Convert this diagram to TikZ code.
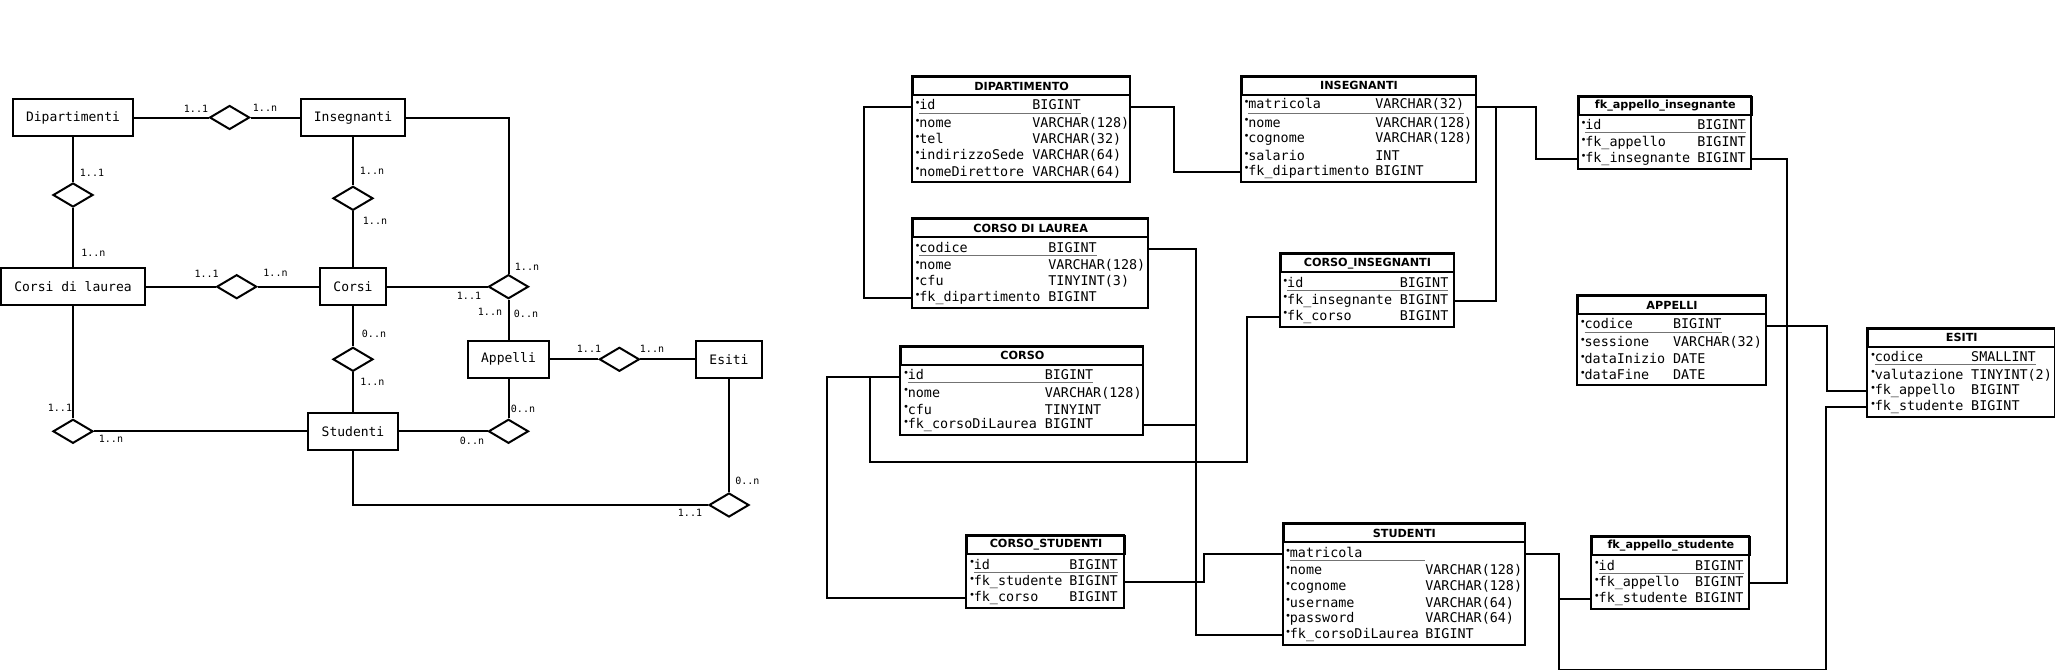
\documentclass[tikz,border=0pt]{standalone}
\usepackage{fontspec}
\setmainfont{DejaVu Sans}
\newfontfamily\monofont{DejaVu Sans Mono}
\usetikzlibrary{calc,shapes.geometric}

\newcommand{\erfont}{\monofont\fontsize{6.5}{7}\selectfont}
\newcommand{\cardfont}{\monofont\fontsize{5}{6}\selectfont}
\newcommand{\rowfont}{\monofont\fontsize{6.7}{8}\selectfont}
\newcommand{\headfont}{\bfseries\fontsize{5.6}{6}\selectfont}
\newcommand{\fieldmark}{\makebox[2pt][l]{\hspace{-0.4pt}\raisebox{0.45ex}{\fontsize{5}{5}\selectfont\textbullet}}}
\newcommand{\keyline}[1]{\textcolor{black!55}{\underline{\textcolor{black}{#1}}}}

\tikzset{
	entity/.style={draw, line width=1pt, font=\erfont, inner xsep=6.65pt, inner ysep=0pt, minimum height=18.25pt},
	relation/.style={draw, diamond, line width=1pt, minimum width=20pt, minimum height=12pt, inner sep=0pt},
	card/.style={font=\cardfont, inner sep=0pt},
	tabhead/.style={draw, line width=1pt, inner sep=0pt, minimum height=9pt, font=\headfont},
	tabrow/.style={inner sep=0pt, minimum height=8.1pt, font=\rowfont},
	tabframe/.style={line width=1pt},
	link/.style={line width=1pt}
}

% #1 name, #2 top left, #3 width, #4 type column, #5 number of rows, #6 title, #7 fields
\newcommand{\dbtable}[7]{%
	\node[tabhead, anchor=north west] (#1) at #2 {\makebox[\dimexpr #3pt/2\relax]{#6}};
	\foreach \fname/\ftype [count=\i] in {#7} {
		\node[tabrow, anchor=north west] (#1-\i) at ($(#1.south west)+(0,{2.5+(\i-1)*16.2})$)
			{\makebox[\dimexpr #3pt/2\relax][l]{\hspace{1.5pt}\fieldmark\ifnum\i=1 \keyline{\makebox[\dimexpr #4pt/2-3.5pt\relax][l]{\fname}\ftype}\else\makebox[\dimexpr #4pt/2-3.5pt\relax][l]{\fname}\ftype\fi}};
	}
	\draw[tabframe] (#1.north west) rectangle ($(#1-#5.south east)+(0,1.5)$);
}

\begin{document}
\begin{tikzpicture}[x=0.5pt, y=-0.5pt]
	\useasboundingbox (0,0) rectangle (2055,669);

	% entity-relationship schema
	\node[entity] (dipartimenti) at (73,117.5) {Dipartimenti};
	\node[entity] (insegnanti) at (353,117.5) {Insegnanti};
	\node[entity] (corsidilaurea) at (73,286.7) {Corsi di laurea};
	\node[entity] (corsi) at (353,286.7) {Corsi};
	\node[entity] (appelli) at (508.5,359.3) {Appelli};
	\node[entity] (esiti) at (729,359.3) {Esiti};
	\node[entity] (studenti) at (353,431.3) {Studenti};

	\node[relation] (dipins) at (229.6,117.5) {};
	\node[relation] (dipcdl) at (73,195) {};
	\node[relation] (inscor) at (353,198.3) {};
	\node[relation] (cdlcor) at (236.7,286.7) {};
	\node[relation] (inscorapp) at (508.5,286.7) {};
	\node[relation] (corstu) at (353,359.3) {};
	\node[relation] (appesi) at (619.4,359.3) {};
	\node[relation] (cdlstu) at (73,431.3) {};
	\node[relation] (stuapp) at (508.5,431.3) {};
	\node[relation] (stuesi) at (729,505) {};

	\draw[link] (dipartimenti) -- (dipins) -- (insegnanti);
	\draw[link] (dipartimenti) -- (dipcdl) -- (corsidilaurea);
	\draw[link] (insegnanti) -- (inscor) -- (corsi);
	\draw[link] (corsidilaurea) -- (cdlcor) -- (corsi);
	\draw[link] (corsi) -- (inscorapp) -- (appelli);
	\draw[link] (insegnanti.east) -| (inscorapp.north);
	\draw[link] (corsi) -- (corstu) -- (studenti);
	\draw[link] (appelli) -- (appesi) -- (esiti);
	\draw[link] (corsidilaurea) -- (cdlstu.north);
	\draw[link] (cdlstu.east) -- (studenti.west);
	\draw[link] (studenti) -- (stuapp) -- (appelli);
	\draw[link] (studenti.south) |- (stuesi.west);
	\draw[link] (esiti) -- (stuesi);

	\foreach \cx/\cy/\ctext [count=\k] in {
		196/109/1..1, 265/107.7/1..n,
		92/172.7/1..1, 93.4/253.3/1..n,
		372/170.7/1..n, 375/221/1..n,
		206.6/274.3/1..1, 275.5/273.3/1..n,
		527/266.5/1..n, 469/296/1..1, 490/312/1..n, 526/314/0..n,
		589/348.7/1..1, 652/349.3/1..n,
		374/334/0..n, 372.4/381.7/1..n,
		60/408.3/1..1, 111/439.3/1..n,
		523/409.3/0..n, 472/440.7/0..n,
		747.4/481/0..n, 690/512.7/1..1}
		\node[card] (card\k) at (\cx,\cy) {\ctext};

	% relational schema
	\dbtable{tdip}{(912,76)}{217.3}{120}{5}{DIPARTIMENTO}{id/BIGINT, nome/VARCHAR(128), tel/VARCHAR(32), indirizzoSede/VARCHAR(64), nomeDirettore/VARCHAR(64)}
	\dbtable{tins}{(1241,75.7)}{234}{134}{5}{INSEGNANTI}{matricola/VARCHAR(32), nome/VARCHAR(128), cognome/VARCHAR(128), salario/INT, fk\_dipartimento/BIGINT}
	\dbtable{tcdl}{(912,218.3)}{235.3}{136}{4}{CORSO DI LAUREA}{codice/BIGINT, nome/VARCHAR(128), cfu/TINYINT(3), fk\_dipartimento/BIGINT}
	\dbtable{tci}{(1279.8,253.3)}{173.2}{119.7}{3}{CORSO\_INSEGNANTI}{id/BIGINT, fk\_insegnante/BIGINT, fk\_corso/BIGINT}
	\dbtable{tcor}{(900.4,345.7)}{242}{144}{4}{CORSO}{id/BIGINT, nome/VARCHAR(128), cfu/TINYINT, fk\_corsoDiLaurea/BIGINT}
	\dbtable{tcs}{(966.4,535)}{157.2}{102.6}{3}{CORSO\_STUDENTI}{id/BIGINT, fk\_studente/BIGINT, fk\_corso/BIGINT}
	\dbtable{tstu}{(1282.5,523.3)}{241.7}{142.4}{6}{STUDENTI}{matricola/{}, nome/VARCHAR(128), cognome/VARCHAR(128), username/VARCHAR(64), password/VARCHAR(64), fk\_corsoDiLaurea/BIGINT}
	\dbtable{tfai}{(1577.9,95.7)}{172.7}{119}{3}{fk\_appello\_insegnante}{id/BIGINT, fk\_appello/BIGINT, fk\_insegnante/BIGINT}
	\dbtable{tapp}{(1577.2,295)}{187.6}{95.5}{4}{APPELLI}{codice/BIGINT, sessione/VARCHAR(32), dataInizio/DATE, dataFine/DATE}
	\dbtable{tesi}{(1867.4,327.7)}{186.6}{103.4}{4}{ESITI}{codice/SMALLINT, valutazione/TINYINT(2), fk\_appello/BIGINT, fk\_studente/BIGINT}
	\dbtable{tfas}{(1591.3,536)}{157.2}{103.4}{3}{fk\_appello\_studente}{id/BIGINT, fk\_appello/BIGINT, fk\_studente/BIGINT}

	\draw[link] (tdip-1.west) -- ++(-48.5,0) |- (tcdl-4.west);
	\draw[link] (tdip-1.east) -- ++(44,0) |- (tins-5.west);
	\draw[link] (tins-1.east) -- ++(60,0) |- (tfai-3.west);
	\draw[link] (tins-1.east) -- ++(20,0) |- (tci-2.east);
	\draw[link] (tcdl-1.east) -- ++(48,0) coordinate (cdljoin) |- (tstu-6.west);
	\draw[link] (tcor-4.east) -- (tcor-4.east -| cdljoin);
	\draw[link] (tcor-1.west) -- ++(-30,0) -- ++(0,85.7) -| ($(tci-3.west)+(-32.6,0)$) -- (tci-3.west);
	\draw[link] (tcor-1.west) -- ++(-73.7,0) |- (tcs-3.west);
	\draw[link] (tcs-2.east) -- ++(79.4,0) |- (tstu-1.west);
	\draw[link] (tstu-1.east) -- ++(33.5,0) |- (tfas-3.west);
	\draw[link] (tstu-1.east) -- ++(33.5,0) -- ++(0,115.8) -| ($(tesi-4.west)+(-41.7,0)$) -- (tesi-4.west);
	\draw[link] (tfas-2.east) -- ++(37.5,0) |- (tfai-3.east);
	\draw[link] (tapp-1.east) -- ++(61,0) |- (tesi-3.west);
\end{tikzpicture}
\end{document}
